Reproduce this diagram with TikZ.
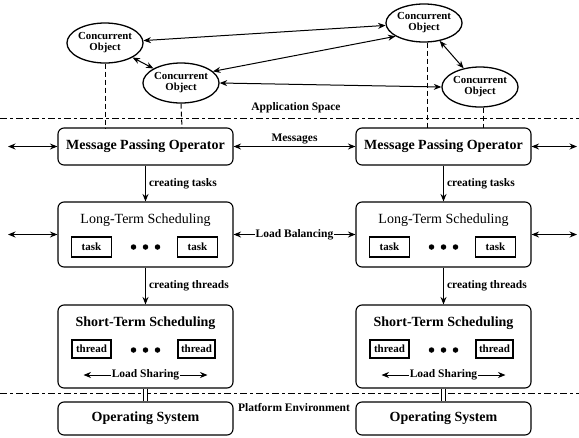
\documentclass[tikz,border=0pt]{standalone}
\usepackage{fontspec}
\setmainfont{Liberation Serif}
\usetikzlibrary{shapes.geometric,arrows.meta}
\begin{document}
\begin{tikzpicture}[x=1pt,y=-1pt,
  bigbox/.style={draw, rounded corners=6pt, line width=1.1pt, minimum width=175pt, inner sep=0pt},
  title/.style={font=\fontsize{14}{16}\selectfont\bfseries, inner sep=0pt},
  titlereg/.style={font=\fontsize{14}{16}\selectfont, inner sep=0pt},
  lbl/.style={font=\fontsize{11.5}{13}\selectfont\bfseries, inner sep=1pt},
  inbox/.style={draw, line width=1.2pt, minimum width=40pt, inner sep=0pt, font=\fontsize{11}{12}\selectfont\bfseries},
  obj/.style={draw, ellipse, line width=1.3pt, minimum width=64pt, minimum height=40pt, inner sep=0pt, align=center, font=\fontsize{10.8}{11}\selectfont\bfseries},
  arr/.style={line width=1pt, -{Stealth[length=7.5pt,width=6pt]}},
  darr/.style={line width=1pt, {Stealth[length=7.5pt,width=6pt]}-{Stealth[length=7.5pt,width=6pt]}},
  sep/.style={line width=0.9pt, dash pattern=on 7pt off 3pt on 3pt off 3pt},
  vdash/.style={line width=1pt, dash pattern=on 5pt off 3pt},
  dot/.style={circle, fill, inner sep=0pt, minimum size=5.5pt}
]
\useasboundingbox (0,0) rectangle (579,437);

% separators
\coordinate (a1) at (0,118); \coordinate (a2) at (579,118);
\coordinate (p1) at (0,393); \coordinate (p2) at (579,393);
\draw[sep] (a1) -- (a2);
\draw[sep] (p1) -- (p2);
\node[lbl] (appl) at (296,108) {Application Space};
\node[lbl] (platl) at (294,408) {Platform Environment};

% concurrent objects
\node[obj] (e1) at (105,43) {Concurrent\\Object};
\node[obj, minimum width=62pt] (e2) at (181,83) {Concurrent\\Object};
\node[obj, minimum height=38pt] (e3) at (424,23) {Concurrent\\Object};
\node[obj] (e4) at (480,87) {Concurrent\\Object};

\draw[darr] (e1) -- (e3);
\draw[darr] (e2.20) -- (e3.205);
\draw[darr] (e2.east) -- (e4.west);
\draw[darr] (e1) -- (e2);
\draw[darr] (e3) -- (e4);

% boxes
\foreach \s/\x in {L/145.5, R/443.5}{
  \node[bigbox, minimum height=37pt] (mpo\s) at (\x,146.5) {};
  \node[title] (mpot\s) at (\x,146.5) {Message Passing Operator};
  \node[bigbox, minimum height=65pt] (lts\s) at (\x,234.5) {};
  \node[titlereg] (ltst\s) at (\x,220) {Long-Term Scheduling};
  \node[inbox, minimum height=20pt] (ta\s) at (\x-54,247) {task};
  \node[inbox, minimum height=20pt] (tb\s) at (\x+52,247) {task};
  \node[dot] (d1\s) at (\x-12,247) {};
  \node[dot] (d2\s) at (\x,247) {};
  \node[dot] (d3\s) at (\x+12,247) {};
  \node[bigbox, minimum height=83pt] (sts\s) at (\x,346.5) {};
  \node[title] (stst\s) at (\x,323) {Short-Term Scheduling};
  \node[inbox, minimum height=18pt, minimum width=39pt] (ha\s) at (\x-54,349) {thread};
  \node[inbox, minimum height=18pt, minimum width=37pt] (hb\s) at (\x+51,349) {thread};
  \node[dot] (f1\s) at (\x-12,350) {};
  \node[dot] (f2\s) at (\x,350) {};
  \node[dot] (f3\s) at (\x+12,350) {};
  \coordinate (lsa\s) at (\x-62,375);
  \coordinate (lsb\s) at (\x+62,375);
  \draw[darr] (lsa\s) -- node[lbl, fill=white] (lsl\s) {Load Sharing} (lsb\s);
  \node[bigbox, minimum height=33pt] (os\s) at (\x,418.5) {};
  \node[title] (ost\s) at (\x,418.5) {Operating System};
  \draw[arr] (mpo\s) -- node[lbl, right, xshift=2pt] (ct\s) {creating tasks} (lts\s);
  \draw[arr] (lts\s) -- node[lbl, right, xshift=2pt] (cth\s) {creating threads} (sts\s);
  \draw[line width=0.8pt, double, double distance=3pt] (sts\s.south) -- (os\s.north);
}

% vertical dashed lines from objects
\coordinate (v1) at (105,128); \coordinate (v2) at (182,128);
\coordinate (v3) at (427,128); \coordinate (v4) at (483,128);
\draw[vdash] (e1.south) -- (v1);
\draw[vdash] (e2.south) -- (v2);
\draw[vdash] (e3.south -| v3) -- (v3);
\draw[vdash] (e4.south -| v4) -- (v4);

% horizontal arrows between and beside boxes
\draw[darr] (mpoL.east) -- node[lbl, above, yshift=1pt] (msg) {Messages} (mpoR.west);
\draw[darr] (ltsL.east) -- node[lbl, fill=white] (lb) {Load Balancing} (ltsR.west);
\coordinate (ol1) at (8,146.5); \coordinate (ol2) at (8,234.5);
\coordinate (or1) at (577,146.5); \coordinate (or2) at (577,234.5);
\draw[darr] (ol1) -- (mpoL.west);
\draw[darr] (ol2) -- (ltsL.west);
\draw[darr] (mpoR.east) -- (or1);
\draw[darr] (ltsR.east) -- (or2);
\end{tikzpicture}
\end{document}
